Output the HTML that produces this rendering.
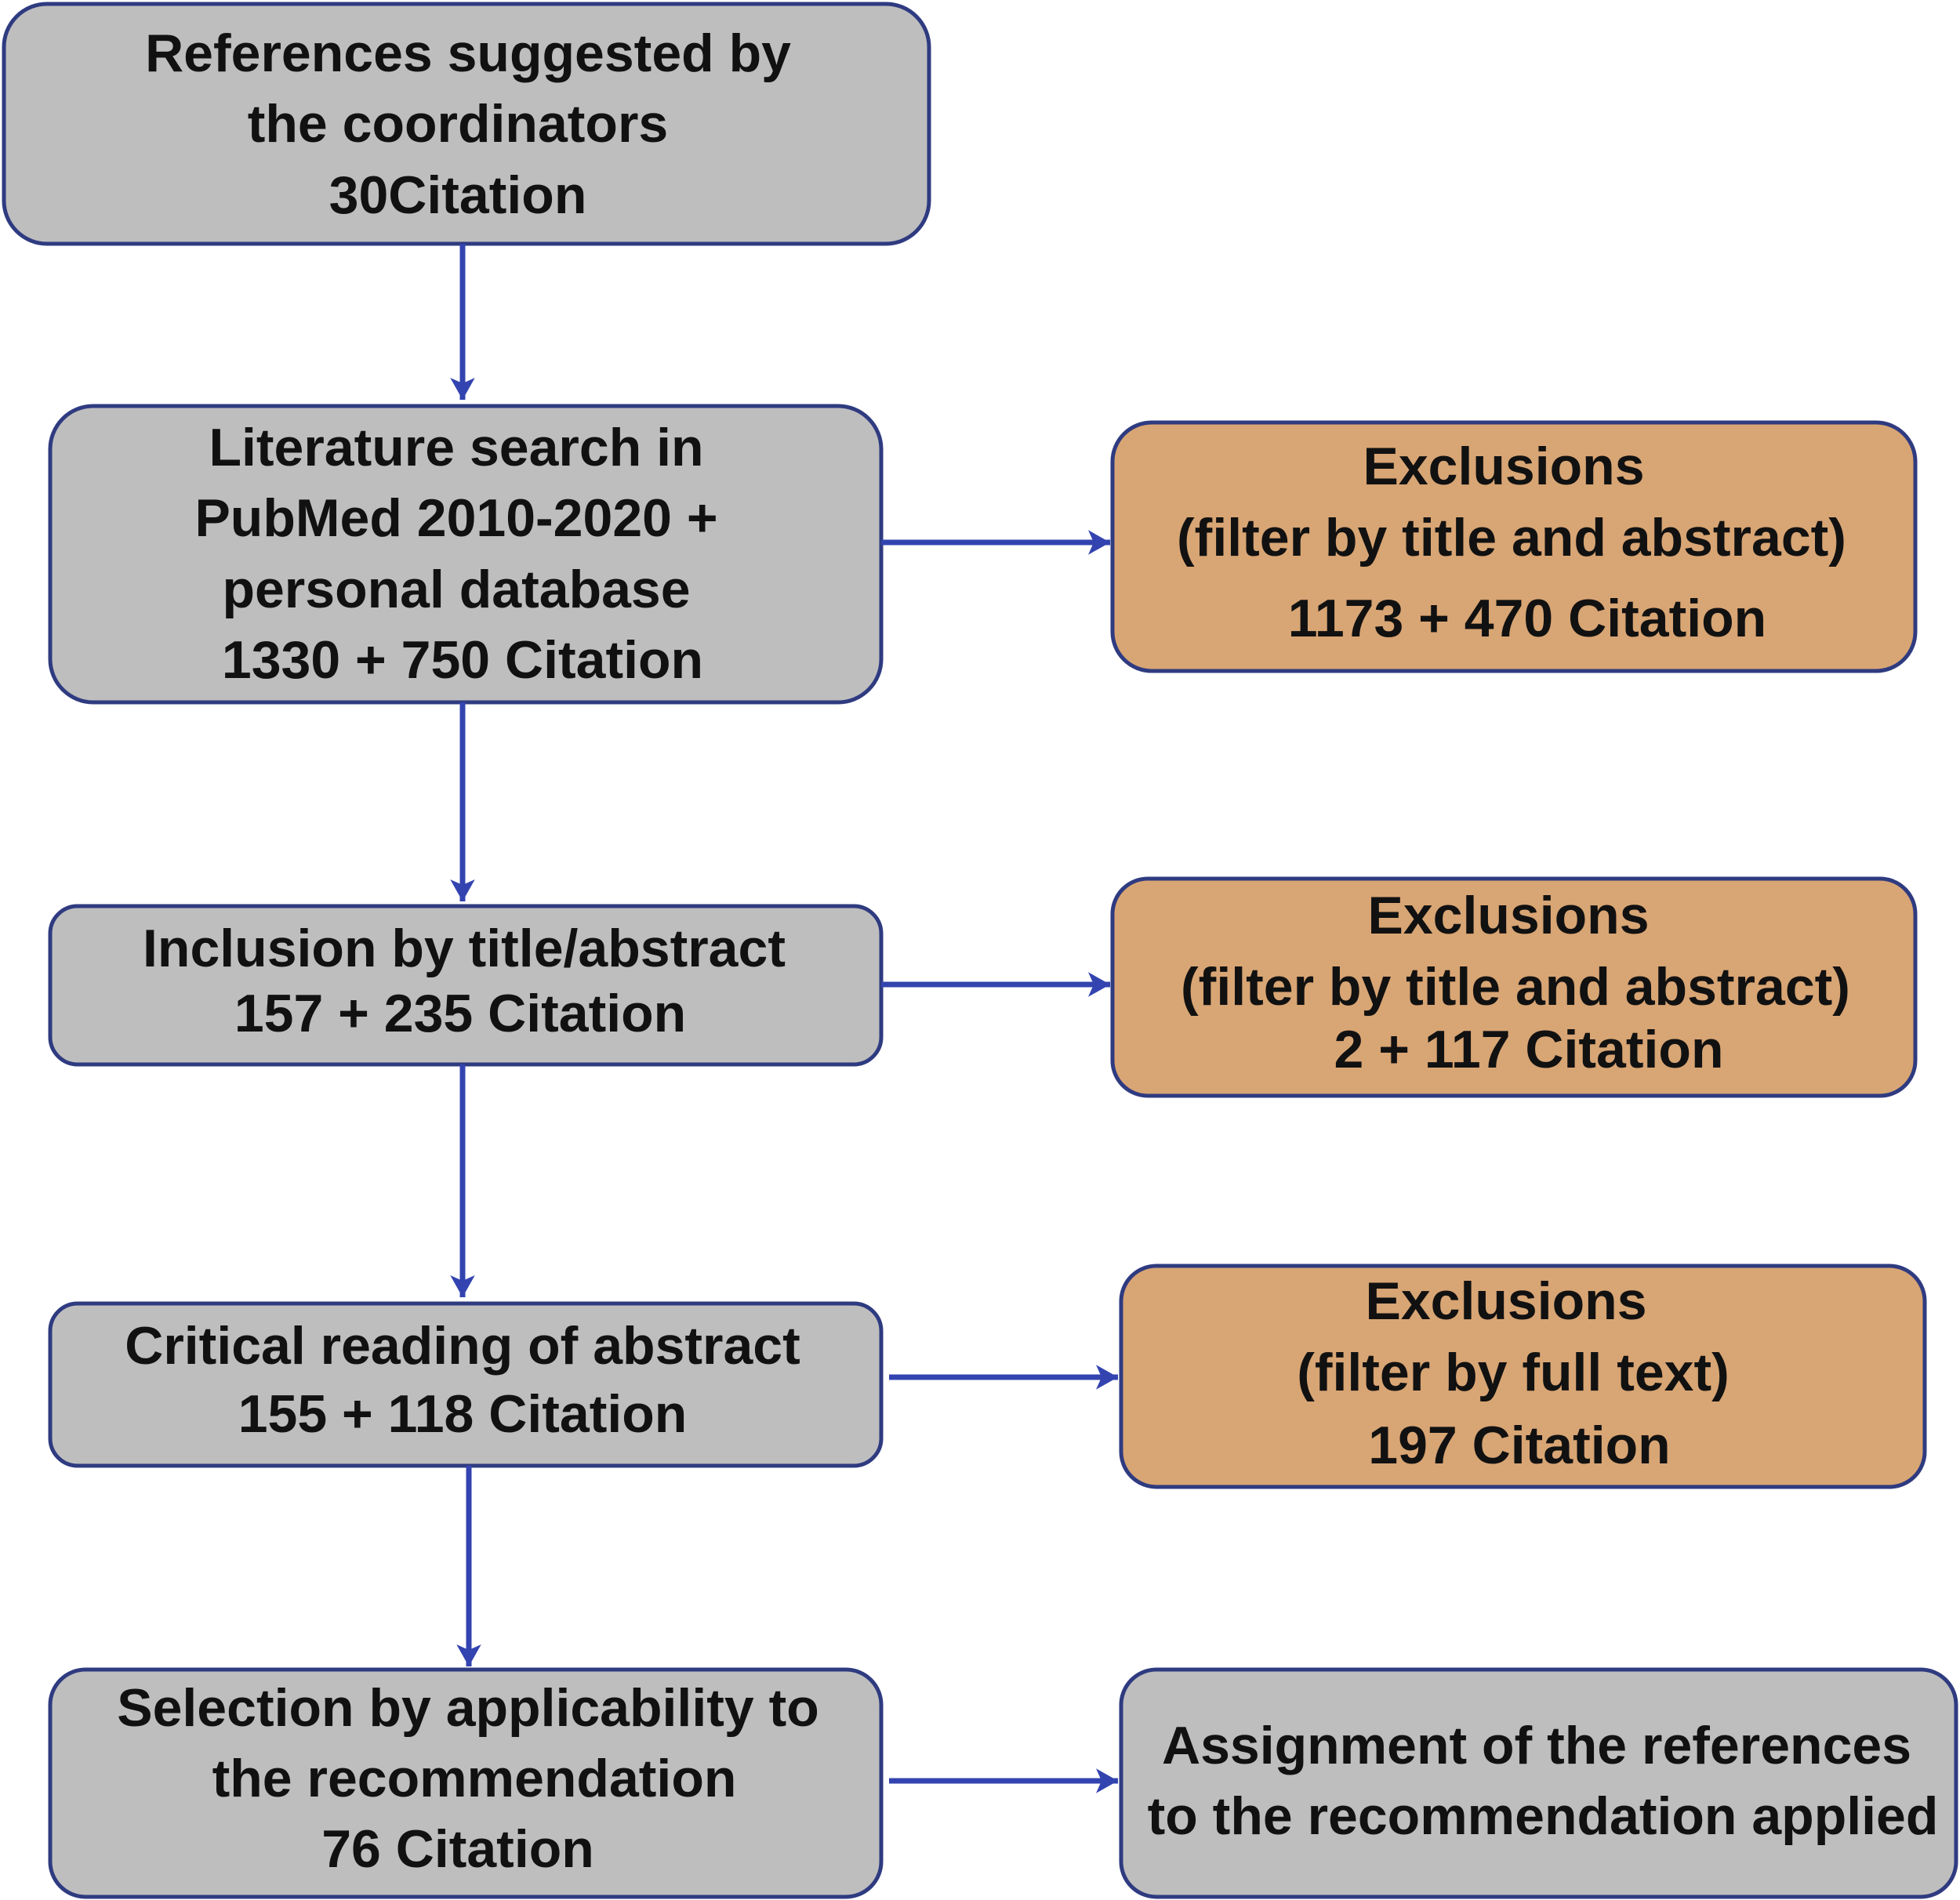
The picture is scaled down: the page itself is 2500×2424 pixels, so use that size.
<!DOCTYPE html>
<html><head><meta charset="utf-8"><style>html,body{margin:0;padding:0;background:#fff}svg{display:block}</style></head>
<body>
<svg width="2500" height="2424" viewBox="0 0 2500 2424" xmlns="http://www.w3.org/2000/svg">
<defs>
<marker id="ah" viewBox="0 0 10 10" refX="9" refY="5" markerWidth="5" markerHeight="5" orient="auto" markerUnits="strokeWidth">
<path d="M1,0.5 L9,5 L1,9.5 L3,5 Z" fill="#3344b0"/>
</marker>
</defs>
<g stroke="#2f3b80" stroke-width="5">
<rect x="5" y="5" width="1180" height="306" rx="55" fill="#bebebe"/>
<rect x="64" y="518" width="1060" height="378" rx="55" fill="#bebebe"/>
<rect x="1419" y="539" width="1024" height="317" rx="50" fill="#d8a574"/>
<rect x="64" y="1156" width="1060" height="202" rx="35" fill="#bebebe"/>
<rect x="1419" y="1121" width="1024" height="277" rx="45" fill="#d8a574"/>
<rect x="64" y="1663" width="1060" height="207" rx="35" fill="#bebebe"/>
<rect x="1430" y="1615" width="1025" height="282" rx="45" fill="#d8a574"/>
<rect x="64" y="2130" width="1060" height="290" rx="45" fill="#bebebe"/>
<rect x="1430" y="2130" width="1065" height="290" rx="45" fill="#bebebe"/>
</g>
<g stroke="#3344b0" stroke-width="7" fill="none" marker-end="url(#ah)">
<line x1="590" y1="311" x2="590" y2="510"/>
<line x1="590" y1="896" x2="590" y2="1150"/>
<line x1="590" y1="1358" x2="590" y2="1655"/>
<line x1="598" y1="1870" x2="598" y2="2126"/>
<line x1="1124" y1="692" x2="1416" y2="692"/>
<line x1="1124" y1="1256" x2="1416" y2="1256"/>
<line x1="1134" y1="1757" x2="1426" y2="1757"/>
<line x1="1134" y1="2272" x2="1426" y2="2272"/>
</g>
<g font-family="Liberation Sans, Arial, sans-serif" font-weight="bold" font-size="68" fill="#111" text-anchor="middle">
<text x="597" y="91">References suggested by</text>
<text x="584" y="181">the coordinators</text>
<text x="584" y="272">30Citation</text>
<text x="582" y="594">Literature search in</text>
<text x="582" y="684">PubMed 2010-2020 +</text>
<text x="582" y="775">personal database</text>
<text x="590" y="865">1330 + 750 Citation</text>
<text x="1918" y="618">Exclusions</text>
<text x="1928" y="709">(filter by title and abstract)</text>
<text x="1948" y="812">1173 + 470 Citation</text>
<text x="592" y="1233">Inclusion by title/abstract</text>
<text x="587" y="1316">157 + 235 Citation</text>
<text x="1924" y="1191">Exclusions</text>
<text x="1933" y="1282">(filter by title and abstract)</text>
<text x="1950" y="1362">2 + 117 Citation</text>
<text x="590" y="1740">Critical reading of abstract</text>
<text x="590" y="1827">155 + 118 Citation</text>
<text x="1921" y="1683">Exclusions</text>
<text x="1930" y="1774">(filter by full text)</text>
<text x="1938" y="1867">197 Citation</text>
<text x="597" y="2202">Selection by applicability to</text>
<text x="605" y="2292">the recommendation</text>
<text x="584" y="2382">76 Citation</text>
<text x="1960" y="2250">Assignment of the references</text>
<text x="1968" y="2340">to the recommendation applied</text>
</g>
</svg>
</body></html>
